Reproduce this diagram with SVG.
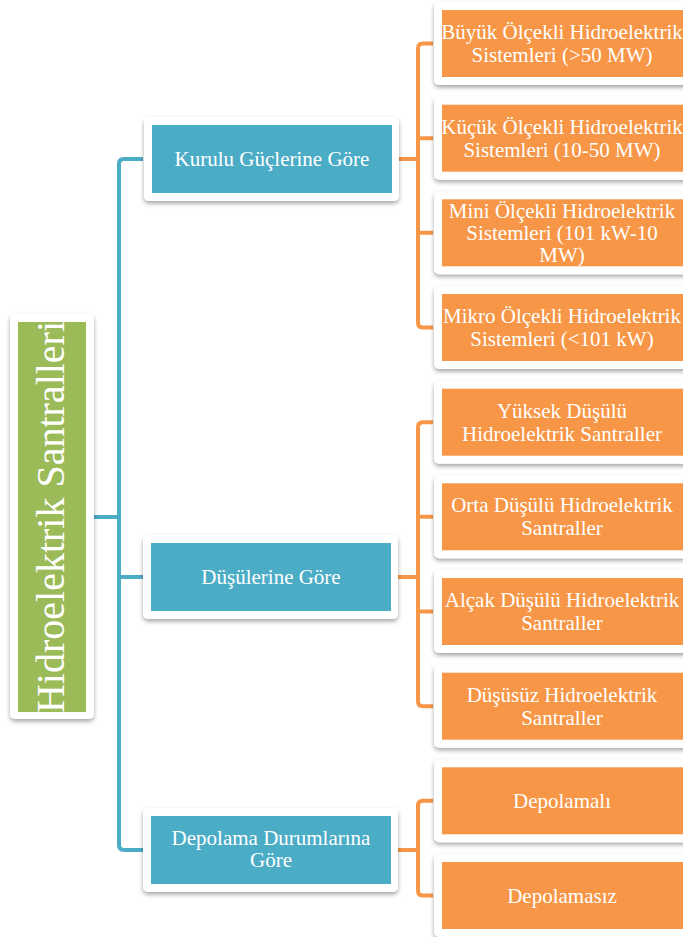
<svg xmlns="http://www.w3.org/2000/svg" width="683" height="937" viewBox="0 0 683 937">
<defs>
<filter id="sh" x="-10%" y="-10%" width="120%" height="130%">
<feDropShadow dx="0" dy="2.5" stdDeviation="2" flood-color="#000" flood-opacity="0.35"/>
</filter>
</defs>
<style>
.frame{fill:#fff;filter:url(#sh)}
.g{fill:#9BBB59}
.b{fill:#4BACC6}
.o{fill:#F79646}
.t{font-family:"Liberation Serif","Times New Roman",serif;fill:#fff;text-anchor:middle;font-size:21px}
.cb{fill:none;stroke:#4BACC6;stroke-width:4}
.co{fill:none;stroke:#F79646;stroke-width:4}
</style>
<rect width="683" height="937" fill="#fff"/>
<g id="connectors">
<path class="cb" d="M94,517 H119"/>
<path class="cb" d="M143,159 H124 Q119,159 119,164 V845 Q119,850 124,850 H143"/>
<path class="cb" d="M119,577 H143"/>
<path class="co" d="M399,159 H418"/>
<path class="co" d="M433,43.5 H423 Q418,43.5 418,48.5 V322.5 Q418,327.5 423,327.5 H433"/>
<path class="co" d="M418,138.2 H433 M418,232.8 H433"/>
<path class="co" d="M398,577 H418"/>
<path class="co" d="M433,422.2 H423 Q418,422.2 418,427.2 V701.2 Q418,706.2 423,706.2 H433"/>
<path class="co" d="M418,516.8 H433 M418,611.5 H433"/>
<path class="co" d="M398,850 H418"/>
<path class="co" d="M433,800.8 H423 Q418,800.8 418,805.8 V890.5 Q418,895.5 423,895.5 H433"/>
</g>
<g id="root">
<rect class="frame" x="10" y="314" width="84" height="405" rx="5"/>
<rect class="g" x="18" y="322" width="68" height="390"/>
<text class="t" style="font-size:40px" transform="translate(64,517) rotate(-90)" x="0" y="0">Hidroelektrik Santralleri</text>
</g>
<g id="n-kurulu">
<rect class="frame" x="144" y="117" width="255" height="84" rx="5"/>
<rect class="b" x="152" y="125" width="240" height="68"/>
<text class="t" x="272" y="166">Kurulu Güçlerine Göre</text>
</g>
<g id="n-dusulerine">
<rect class="frame" x="143" y="535" width="255" height="84" rx="5"/>
<rect class="b" x="151" y="543" width="240" height="68"/>
<text class="t" x="271" y="584">Düşülerine Göre</text>
</g>
<g id="n-depolama">
<rect class="frame" x="143" y="808" width="255" height="84" rx="5"/>
<rect class="b" x="151" y="816" width="240" height="68"/>
<text class="t" x="271" y="845">Depolama Durumlarına</text>
<text class="t" x="271" y="867">Göre</text>
</g>
<g id="n-buyuk">
<rect class="frame" x="434" y="2" width="256" height="83" rx="5"/>
<rect class="o" x="442" y="10" width="241" height="67"/>
<text class="t" x="562" y="39">Büyük Ölçekli Hidroelektrik</text>
<text class="t" x="562" y="62">Sistemleri (&gt;50 MW)</text>
</g>
<g id="n-kucuk">
<rect class="frame" x="434" y="96.7" width="256" height="83" rx="5"/>
<rect class="o" x="442" y="104.7" width="241" height="67"/>
<text class="t" x="562" y="133.5">Küçük Ölçekli Hidroelektrik</text>
<text class="t" x="562" y="156.5">Sistemleri (10-50 MW)</text>
</g>
<g id="n-mini">
<rect class="frame" x="434" y="191.3" width="256" height="83" rx="5"/>
<rect class="o" x="442" y="199.3" width="241" height="67"/>
<text class="t" x="562" y="218">Mini Ölçekli Hidroelektrik</text>
<text class="t" x="562" y="240">Sistemleri (101 kW-10</text>
<text class="t" x="562" y="262">MW)</text>
</g>
<g id="n-mikro">
<rect class="frame" x="434" y="286" width="256" height="83" rx="5"/>
<rect class="o" x="442" y="294" width="241" height="67"/>
<text class="t" x="562" y="322.5">Mikro Ölçekli Hidroelektrik</text>
<text class="t" x="562" y="345.5">Sistemleri (&lt;101 kW)</text>
</g>
<g id="n-yuksek">
<rect class="frame" x="434" y="380.7" width="256" height="83" rx="5"/>
<rect class="o" x="442" y="388.7" width="241" height="67"/>
<text class="t" x="562" y="418">Yüksek Düşülü</text>
<text class="t" x="562" y="441">Hidroelektrik Santraller</text>
</g>
<g id="n-orta">
<rect class="frame" x="434" y="475.3" width="256" height="83" rx="5"/>
<rect class="o" x="442" y="483.3" width="241" height="67"/>
<text class="t" x="562" y="512">Orta Düşülü Hidroelektrik</text>
<text class="t" x="562" y="535">Santraller</text>
</g>
<g id="n-alcak">
<rect class="frame" x="434" y="570" width="256" height="83" rx="5"/>
<rect class="o" x="442" y="578" width="241" height="67"/>
<text class="t" x="562" y="607">Alçak Düşülü Hidroelektrik</text>
<text class="t" x="562" y="630">Santraller</text>
</g>
<g id="n-dususuz">
<rect class="frame" x="434" y="664.7" width="256" height="83" rx="5"/>
<rect class="o" x="442" y="672.7" width="241" height="67"/>
<text class="t" x="562" y="701.5">Düşüsüz Hidroelektrik</text>
<text class="t" x="562" y="724.5">Santraller</text>
</g>
<g id="n-depolamali">
<rect class="frame" x="434" y="759.3" width="256" height="83" rx="5"/>
<rect class="o" x="442" y="767.3" width="241" height="67"/>
<text class="t" x="562" y="808">Depolamalı</text>
</g>
<g id="n-depolamasiz">
<rect class="frame" x="434" y="854" width="256" height="83" rx="5"/>
<rect class="o" x="442" y="862" width="241" height="67"/>
<text class="t" x="562" y="902.5">Depolamasız</text>
</g>
</svg>
